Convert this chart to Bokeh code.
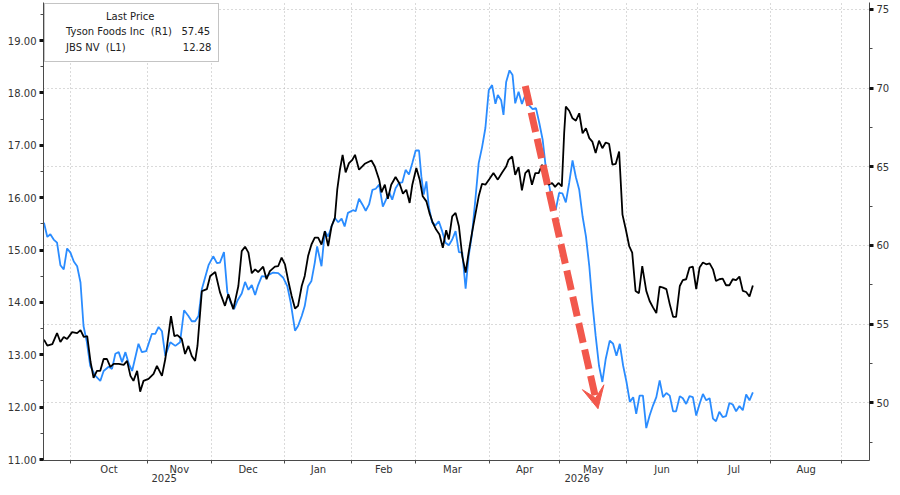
from bokeh.plotting import figure
from bokeh.models import (Range1d, LinearAxis, FixedTicker, PrintfTickFormatter, Grid,
                          Legend, LegendItem, Arrow, VeeHead)
from bokeh.embed import file_html
from bokeh.resources import INLINE

# ---------------- data (x = trading-day index, 1 Oct 2025 = 0) ----------------
month_names = ["Oct", "Nov", "Dec", "Jan", "Feb", "Mar", "Apr", "May", "Jun", "Jul", "Aug"]
month_starts = [0, 23, 42, 64, 84, 103, 125, 146, 166, 187, 209, 230]
year_labels = ["2025", "2026"]
year_break = 64

left_ticks = [11, 12, 13, 14, 15, 16, 17, 18, 19]
left_minor = [11.5, 12.5, 13.5, 14.5, 15.5, 16.5, 17.5, 18.5, 19.5]
right_ticks = [50, 55, 60, 65, 70, 75]
right_minor = [47.5, 52.5, 57.5, 62.5, 67.5, 72.5]

jbs_day = [-7.9, -6.9, -6.0, -5.0, -4.0, -3.0, -2.0, -1.0, 0.0, 1.0, 2.0, 3.0, 3.9, 4.9, 5.9, 7.4,
           8.9, 9.9, 11.4, 12.4, 13.4, 14.4, 15.4, 16.4, 17.4, 18.4, 20.3, 21.3, 22.6, 24.3, 25.3,
           26.3, 27.3, 28.3, 29.8, 31.3, 32.7, 33.9, 35.2, 36.2, 37.2, 38.2, 39.2, 40.2, 41.2, 42.6,
           43.7, 44.6, 45.8, 46.8, 47.8, 48.8, 49.8, 51.1, 52.1, 53.1, 54.1, 55.1, 56.0, 57.1, 58.0,
           59.0, 60.5, 62.0, 63.5, 64.7, 65.7, 67.0, 67.9, 69.0, 69.9, 70.9, 71.9, 72.9, 73.6, 74.9,
           75.9, 76.9, 77.9, 78.9, 79.9, 80.9, 81.8, 82.8, 84.3, 85.1, 86.1, 87.1, 88.1, 89.1, 90.1,
           91.1, 92.1, 93.2, 94.3, 95.2, 96.0, 97.0, 98.0, 99.0, 100.0, 101.0, 102.0, 103.0, 104.0,
           104.7, 105.4, 106.2, 106.9, 107.9, 108.9, 109.9, 110.9, 111.9, 112.9, 113.9, 114.9, 115.9,
           116.9, 117.9, 118.8, 119.8, 120.8, 121.8, 122.8, 123.8, 124.8, 125.8, 126.8, 127.5, 128.5,
           129.2, 130.0, 131.0, 131.9, 132.7, 133.7, 134.7, 135.7, 136.7, 137.9, 138.9, 139.9, 140.9,
           141.9, 142.9, 143.8, 144.8, 145.8, 146.8, 147.8, 148.8, 149.8, 150.8, 151.8, 152.8, 153.8,
           154.8, 155.7, 156.7, 157.7, 158.7, 159.7, 160.9, 161.9, 162.9, 163.9, 164.9, 165.9, 166.9,
           167.9, 168.8, 169.8, 170.8, 171.8, 172.8, 173.8, 174.8, 175.8, 176.8, 177.8, 178.8, 179.8,
           180.7, 181.8, 182.7, 183.7, 184.7, 185.7, 186.7, 187.7, 188.7, 189.7, 190.7, 191.7, 192.6,
           193.6, 194.6, 195.6, 196.6, 197.6, 198.6, 199.6, 200.6, 201.6, 202.6, 203.6]
jbs_px = [15.52, 15.25, 15.30, 15.20, 15.14, 14.71, 14.63, 15.03, 14.95, 14.78, 14.69, 14.38, 13.55,
          13.24, 12.79, 12.60, 12.50, 12.69, 12.77, 12.73, 13.02, 13.05, 12.86, 13.05, 12.83, 12.69,
          13.21, 13.05, 13.07, 13.40, 13.40, 13.53, 13.45, 12.98, 13.24, 13.17, 13.24, 13.85, 13.74,
          13.64, 13.64, 13.74, 14.25, 14.48, 14.71, 14.88, 14.75, 14.76, 14.96, 14.20, 14.00, 13.87,
          14.03, 14.17, 14.39, 14.24, 14.33, 14.14, 14.33, 14.50, 14.49, 14.52, 14.57, 14.56, 14.47,
          14.31, 14.00, 13.46, 13.55, 13.74, 13.93, 14.31, 14.41, 14.76, 15.07, 14.69, 15.36, 15.26,
          15.45, 15.61, 15.53, 15.60, 15.45, 15.71, 15.76, 15.74, 15.98, 15.87, 15.75, 15.87, 16.15,
          16.17, 16.25, 15.83, 15.98, 16.09, 15.96, 16.18, 16.28, 16.29, 16.53, 16.44, 16.66, 16.90,
          16.90, 16.40, 16.06, 16.31, 15.83, 15.53, 15.47, 15.55, 15.36, 15.14, 15.09, 15.20, 15.36,
          14.96, 14.95, 14.26, 14.88, 15.30, 15.96, 16.66, 16.96, 17.33, 18.05, 18.15, 17.79, 17.96,
          17.86, 17.58, 18.21, 18.43, 18.34, 17.80, 18.02, 17.79, 17.96, 17.77, 17.69, 17.71, 17.42,
          17.10, 16.53, 16.21, 15.90, 15.77, 16.09, 16.08, 15.91, 16.28, 16.71, 16.39, 16.15, 15.64,
          15.26, 14.69, 14.00, 13.36, 12.79, 12.48, 12.92, 13.27, 13.21, 12.98, 13.21, 12.79, 12.48,
          12.10, 12.19, 11.87, 12.22, 12.22, 11.60, 11.84, 12.03, 12.19, 12.51, 12.19, 12.27, 12.22,
          11.92, 11.92, 12.21, 12.17, 12.06, 12.21, 12.19, 11.84, 12.06, 12.25, 12.13, 12.17, 11.78,
          11.73, 11.91, 11.81, 11.83, 12.08, 12.05, 11.92, 12.02, 11.94, 12.24, 12.13, 12.28]

tyson_day = [-7.9, -6.9, -5.4, -4.0, -3.0, -2.0, -1.0, 0.5, 2.0, 3.0, 4.0, 5.0, 6.0, 6.9, 7.9, 8.9,
             9.9, 10.9, 11.9, 12.9, 14.4, 15.9, 16.9, 17.9, 18.8, 19.9, 20.8, 21.8, 23.3, 24.8, 25.8,
             27.3, 28.3, 30.0, 31.0, 31.9, 33.2, 34.2, 35.2, 36.2, 37.2, 37.9, 39.2, 40.7, 41.7, 43.2,
             44.6, 46.1, 47.1, 48.6, 50.1, 51.1, 52.1, 53.1, 54.1, 55.1, 56.0, 57.5, 58.5, 59.5, 61.0,
             62.0, 63.0, 64.0, 65.0, 66.0, 67.0, 67.9, 69.0, 69.9, 70.9, 71.9, 72.9, 73.9, 74.9, 75.9,
             76.9, 77.9, 78.9, 79.6, 80.4, 81.2, 82.1, 83.1, 84.1, 84.9, 86.1, 87.8, 89.8, 90.8, 92.1,
             92.8, 93.8, 94.7, 95.7, 97.0, 98.2, 99.2, 100.2, 101.2, 102.0, 103.2, 104.2, 105.1, 106.2,
             107.1, 108.1, 109.1, 110.1, 111.1, 112.1, 112.9, 113.9, 114.9, 115.9, 116.9, 117.9, 118.8,
             119.8, 120.8, 121.8, 122.8, 123.8, 125.0, 126.2, 127.5, 128.8, 130.0, 130.7, 131.8, 132.7,
             133.7, 134.7, 135.7, 136.7, 137.7, 138.7, 139.7, 140.7, 141.7, 142.6, 143.7, 144.6, 145.6,
             146.6, 147.3, 147.8, 148.8, 149.8, 150.8, 151.8, 152.8, 153.8, 154.8, 155.7, 156.7, 157.7,
             158.7, 159.7, 160.7, 161.7, 162.7, 163.7, 164.7, 165.7, 166.7, 167.6, 168.6, 169.6, 170.6,
             171.8, 172.8, 173.8, 174.8, 175.8, 176.8, 177.8, 178.8, 179.8, 180.7, 181.8, 182.7, 183.7,
             184.7, 185.7, 186.7, 187.7, 188.7, 189.7, 190.7, 191.7, 192.6, 193.6, 194.6, 195.6, 196.6,
             197.6, 198.6, 199.6, 200.6, 201.6, 202.6, 203.6]
tyson_px = [54.01, 53.63, 53.73, 54.43, 53.86, 54.18, 54.05, 54.49, 54.43, 54.62, 54.18, 54.24, 52.59,
            51.58, 52.03, 52.03, 52.78, 52.78, 52.28, 52.47, 52.47, 52.41, 52.66, 51.71, 51.39, 52.03,
            50.70, 51.39, 51.52, 51.84, 52.34, 51.71, 52.78, 55.51, 54.24, 54.30, 54.05, 53.10, 53.61,
            52.97, 52.66, 53.61, 57.09, 57.22, 58.06, 58.31, 57.03, 56.16, 56.90, 55.95, 57.42, 59.64,
            59.92, 59.54, 58.23, 58.48, 58.31, 58.65, 57.85, 58.37, 58.65, 58.69, 59.22, 58.80, 57.74,
            56.79, 55.99, 56.16, 57.42, 58.06, 59.32, 60.06, 60.49, 60.49, 60.06, 60.91, 59.96, 61.22,
            61.75, 63.54, 64.81, 65.76, 64.64, 65.23, 65.44, 65.76, 64.81, 65.19, 65.40, 65.02, 64.18,
            63.37, 63.86, 62.96, 63.86, 64.35, 63.92, 63.29, 63.54, 62.70, 63.86, 64.92, 64.18, 63.12,
            62.80, 62.07, 61.44, 61.01, 60.70, 59.85, 60.97, 60.38, 61.85, 62.07, 61.22, 59.32, 58.27,
            59.54, 60.80, 61.96, 63.12, 63.92, 63.86, 64.22, 64.60, 64.18, 64.64, 65.02, 65.44, 65.65,
            64.49, 64.98, 63.50, 64.60, 64.81, 63.86, 64.60, 64.60, 65.13, 64.49, 63.86, 63.97, 63.72,
            63.97, 63.75, 67.13, 68.82, 68.56, 68.08, 67.93, 68.40, 67.13, 67.45, 66.82, 66.60, 65.87,
            66.66, 66.18, 66.54, 66.46, 65.13, 65.19, 65.97, 61.96, 61.01, 59.96, 59.54, 57.11, 56.96,
            58.69, 57.11, 56.47, 56.06, 55.70, 57.39, 57.32, 57.22, 56.27, 55.46, 55.46, 57.42, 57.80,
            57.85, 58.59, 58.65, 57.22, 58.59, 58.91, 58.80, 58.86, 58.48, 57.74, 57.85, 57.89, 57.47,
            57.47, 57.85, 57.80, 58.02, 57.11, 57.04, 56.75, 57.45]

tyson_last = "57.45"
jbs_last = "12.28"

# annotation arrow (trading-day index, left-axis value)
arrow_start = (135.7, 18.13)
arrow_end = (157.4, 11.97)

# ---------------- styling ----------------
FONT = "DejaVu Sans"
BLUE = "#2a8cff"
GRID = "#b4b4b4"
AXIS = "#4a4a4a"
TXT = "#333333"
RED = "#f2584c"

X_LO, X_HI = -8.04, 238.4
YL_LO, YL_HI = 10.981, 19.726
YR_LO, YR_HI = 46.33, 75.44

p = figure(width=892, height=487, output_backend="svg", toolbar_location=None,
           x_range=Range1d(X_LO, X_HI), y_range=Range1d(YL_LO, YL_HI),
           min_border_left=43, min_border_right=21, min_border_top=2, min_border_bottom=25)
p.extra_y_ranges = {"right": Range1d(YR_LO, YR_HI)}
p.outline_line_color = None
p.background_fill_color = "white"
p.border_fill_color = "white"

# x axis: month names at mid-month, year names centred on each year's visible span,
# tick marks (minor) at month starts
month_mids = [(month_starts[i] + month_starts[i + 1]) / 2 for i in range(len(month_names))]
year_mids = [round((X_LO + year_break) / 2, 2), round((year_break + X_HI) / 2, 2)]
overrides = {m: n for m, n in zip(month_mids, month_names)}
overrides.update({m: "\n" + y for m, y in zip(year_mids, year_labels)})

xa = p.xaxis[0]
xa.ticker = FixedTicker(ticks=month_mids + year_mids, minor_ticks=month_starts)
xa.major_label_overrides = overrides
xa.major_label_text_font = FONT
xa.major_label_text_font_size = "10px"
xa.major_label_text_color = TXT
xa.major_label_text_line_height = 0.9
xa.major_label_standoff = 0
xa.major_tick_out = 0
xa.major_tick_in = 0
xa.major_tick_line_color = None
xa.minor_tick_out = 3
xa.minor_tick_in = 0
xa.minor_tick_line_color = AXIS
xa.axis_line_color = AXIS

# left axis (JBS)
ya = p.yaxis[0]
ya.ticker = FixedTicker(ticks=left_ticks, minor_ticks=left_minor)
ya.formatter = PrintfTickFormatter(format="%.2f")
ya.major_label_text_font = FONT
ya.major_label_text_font_size = "10px"
ya.major_label_text_color = TXT
ya.major_tick_out = 4
ya.major_tick_in = 0
ya.major_tick_line_width = 3
ya.major_tick_line_color = "#111111"
ya.minor_tick_out = 3
ya.minor_tick_in = 0
ya.minor_tick_line_color = AXIS
ya.axis_line_color = AXIS
ya.major_label_standoff = 3

# right axis (Tyson)
ra = LinearAxis(y_range_name="right",
                ticker=FixedTicker(ticks=right_ticks, minor_ticks=right_minor))
ra.major_label_text_font = FONT
ra.major_label_text_font_size = "10px"
ra.major_label_text_color = TXT
ra.major_tick_out = 4
ra.major_tick_in = 0
ra.major_tick_line_width = 3
ra.major_tick_line_color = "#111111"
ra.minor_tick_out = 3
ra.minor_tick_in = 0
ra.minor_tick_line_color = AXIS
ra.axis_line_color = AXIS
ra.major_label_standoff = 3
p.add_layout(ra, "right")

# grids
p.xgrid.ticker = FixedTicker(ticks=month_starts, minor_ticks=[])
p.xgrid.grid_line_color = GRID
p.xgrid.grid_line_dash = "1 3"
p.ygrid.visible = False
hgrid = Grid(dimension=1, y_range_name="right",
             ticker=FixedTicker(ticks=right_ticks, minor_ticks=[]),
             grid_line_color=GRID, grid_line_dash="1 3")
p.add_layout(hgrid)

# series
r_jbs = p.line(jbs_day, jbs_px, line_color=BLUE, line_width=1.8)
r_ty = p.line(tyson_day, tyson_px, y_range_name="right", line_color="black", line_width=1.8)

# legend swatches
sq_ty = p.scatter(x=[], y=[], marker="square", size=10, fill_color="black", line_color="black")
sq_jb = p.scatter(x=[], y=[], marker="square", size=10, fill_color=BLUE, line_color=BLUE)

NB = "\u00a0"
legend = Legend(
    items=[LegendItem(label="Tyson Foods Inc" + NB * 2 + "(R1)" + NB * 3 + tyson_last, renderers=[sq_ty]),
           LegendItem(label="JBS NV" + NB * 2 + "(L1)" + NB * 18 + jbs_last, renderers=[sq_jb])],
    title=NB * 17 + "Last Price",
    location="top_left", margin=1, padding=7, spacing=2,
    label_height=14, glyph_height=14, glyph_width=10, label_standoff=4,
    label_text_font=FONT, label_text_font_size="10px", label_text_color="#222222",
    title_text_font=FONT, title_text_font_size="10px", title_text_font_style="normal",
    title_text_color="#222222", title_standoff=2,
    border_line_color="#8a8a8a", border_line_width=1.2,
    background_fill_color="white", background_fill_alpha=1.0,
)
p.add_layout(legend)

# red dashed arrow
p.add_layout(Arrow(end=VeeHead(size=22, fill_color=RED, line_color=RED, line_width=1),
                   x_start=arrow_start[0], y_start=arrow_start[1],
                   x_end=arrow_end[0], y_end=arrow_end[1],
                   line_color=RED, line_width=7, line_dash="20 7"))

open("out.html", "w").write(file_html(p, INLINE))
